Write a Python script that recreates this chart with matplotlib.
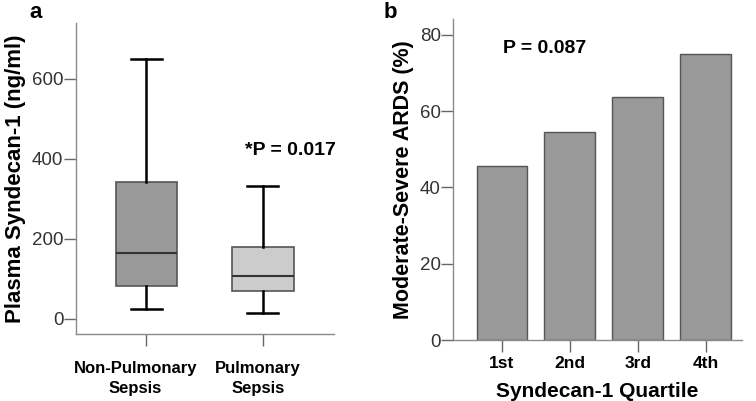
"""
Syndecan-1 figure: box plot by sepsis source (a) and ARDS rate by quartile (b).
"""

import matplotlib
matplotlib.use("Agg")
import matplotlib.pyplot as plt
import matplotlib.transforms as mtransforms

plt.rcParams['font.family'] = ['Liberation Sans', 'DejaVu Sans']

# Panel a: box plot summary values (ng/ml)
groups = ["Non-Pulmonary\nSepsis", "Pulmonary\nSepsis"]
whisker_low = [25, 14]
q1 = [82, 70]
medians = [164, 107]
q3 = [343, 179]
whisker_high = [648, 333]
box_colors = ["#999999", "#cccccc"]

# Panel b: moderate-severe ARDS by quartile (%)
quartiles = ["1st", "2nd", "3rd", "4th"]
ards_pct = [45.5, 54.5, 63.6, 75.0]

SPINE = "#8a8a8a"
TICKLAB = "#333333"


def style_axes(ax):
    for side in ("top", "right"):
        ax.spines[side].set_visible(False)
    for side in ("left", "bottom"):
        ax.spines[side].set_color(SPINE)
        ax.spines[side].set_linewidth(1.0)
    ax.tick_params(axis="both", direction="out", length=8.5, width=1.0, color="#666666")
    ax.tick_params(axis="y", labelsize=13.5, labelcolor=TICKLAB, pad=0.5)


fig = plt.figure(figsize=(7.56, 4.01), dpi=100)

# ---- Panel a
ax1 = fig.add_axes([0.1005, 0.1671, 0.3413, 0.7756])
stats = []
for i in range(len(groups)):
    stats.append({
        "whislo": whisker_low[i], "q1": q1[i], "med": medians[i],
        "q3": q3[i], "whishi": whisker_high[i], "fliers": [],
    })
bp = ax1.bxp(stats, positions=[1, 2], widths=0.53, patch_artist=True,
             showfliers=False,
             boxprops=dict(edgecolor="#555555", linewidth=1.2),
             medianprops=dict(color="#333333", linewidth=1.5),
             whiskerprops=dict(color="black", linewidth=1.8),
             capprops=dict(color="black", linewidth=1.8),
             capwidths=0.265)
for patch, c in zip(bp["boxes"], box_colors):
    patch.set_facecolor(c)

style_axes(ax1)
ax1.set_xlim(0.394, 2.612)
ax1.set_ylim(-37.5, 739)
ax1.set_yticks([0, 200, 400, 600])
ax1.set_xticks([1, 2])
ax1.set_xticklabels(groups, fontsize=12, fontweight="bold", linespacing=1.45)
ax1.tick_params(axis="x", pad=11)
# labels in the source sit a little left of their ticks
for lab, dx in zip(ax1.get_xticklabels(), [-11, -5]):
    lab.set_transform(lab.get_transform() +
                      mtransforms.ScaledTranslation(dx / 100, 0, fig.dpi_scale_trans))
ax1.set_ylabel("Plasma Syndecan-1 (ng/ml)", fontsize=16, fontweight="bold", labelpad=4)
ax1.text(2.238, 420, "*P = 0.017", fontsize=14, fontweight="bold",
         ha="center", va="center")
fig.text(0.0476, 1 - 18.3 / 401, "a", fontsize=16, fontweight="bold",
         ha="center", va="baseline")

# ---- Panel b
ax2 = fig.add_axes([0.5996, 0.1521, 0.3815, 0.7998])
x = list(range(len(quartiles)))
ax2.bar(x, ards_pct, width=0.75, color="#999999", edgecolor="#555555", linewidth=1.0)
style_axes(ax2)
ax2.set_xlim(-0.718, 3.532)
ax2.set_ylim(0, 84.1)
ax2.set_yticks([0, 20, 40, 60, 80])
ax2.set_xticks(x)
ax2.set_xticklabels(quartiles, fontsize=12.5, fontweight="bold")
ax2.tick_params(axis="x", pad=3)
ax2.set_xlabel("Syndecan-1 Quartile", fontsize=15, fontweight="bold", labelpad=8)
ax2.set_ylabel("Moderate-Severe ARDS (%)", fontsize=15.5, fontweight="bold", labelpad=4)
ax2.text(0.625, 76.5, "P = 0.087", fontsize=14, fontweight="bold",
         ha="center", va="center")
fig.text(0.516, 1 - 18.3 / 401, "b", fontsize=16, fontweight="bold",
         ha="center", va="baseline")

fig.savefig("out.png", dpi=100)
